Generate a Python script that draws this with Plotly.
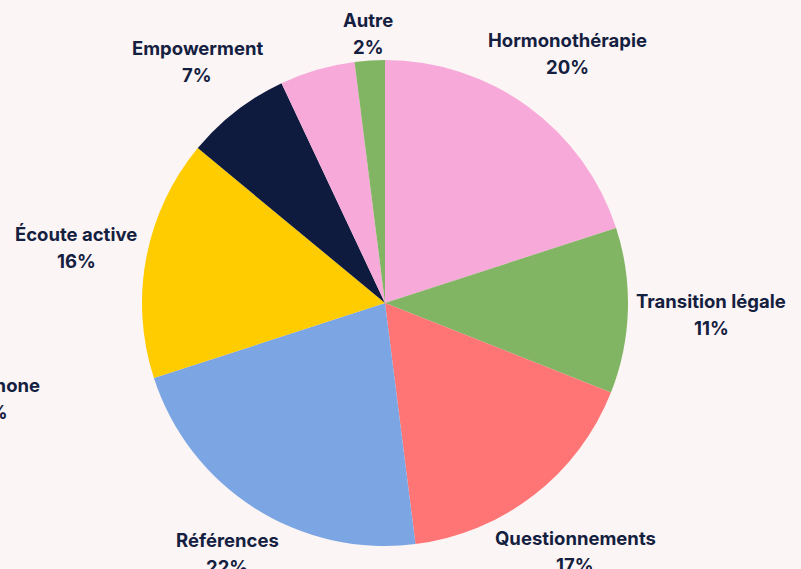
import plotly.graph_objects as go

# slices, clockwise from 12 o'clock
labels = ["Hormonothérapie", "Transition légale", "Questionnements", "Références",
          "Écoute active", "Empowerment", "Téléphone", "Autre"]
values = [20, 11, 17, 22, 16, 7, 5, 2]

colors = ["#F7AAD9", "#82B563", "#FF7575", "#7BA5E3",
          "#FFCC00", "#0E1B3E", "#F7AAD9", "#82B563"]

W, H = 801, 569
TXT = "#14203F"
BG = "#FCF5F5"

# label centres in pixels (label line; percent line sits below)
label_px = [(567, 40), (711, 301), (575, 538), (227, 540),
            (76, 234), (197, 48), (-8, 385), (368, 20)]

fig = go.Figure(go.Pie(
    labels=labels,
    values=values,
    sort=False,
    direction="clockwise",
    rotation=0,
    marker=dict(colors=colors, line=dict(width=0)),
    textinfo="none",
    hoverinfo="label+percent",
    showlegend=False,
    domain=dict(x=[142 / W, 628 / W], y=[23 / H, 509 / H]),
))

total = sum(values)
annotations = []
for lab, val, (px, py) in zip(labels, values, label_px):
    pct = round(100 * val / total)
    for txt, yy in [(lab, py), (f"{pct}%", py + 27)]:
        annotations.append(dict(
            x=px / W, y=1 - yy / H, xref="paper", yref="paper",
            text=f"<b>{txt}</b>", showarrow=False,
            xanchor="center", yanchor="middle",
            font=dict(family="Inter", size=18.5, color=TXT),
        ))

fig.update_layout(
    width=W, height=H, autosize=False,
    margin=dict(l=0, r=0, t=0, b=0),
    paper_bgcolor=BG, plot_bgcolor=BG,
    annotations=annotations,
)

# drop the default page margin so the chart fills the window
fig.write_html("out.html", config={"displayModeBar": False}, post_script=(
    "document.body.style.margin='0';"
    f"document.body.style.background='{BG}';"
    "document.body.style.overflow='hidden';"
))
